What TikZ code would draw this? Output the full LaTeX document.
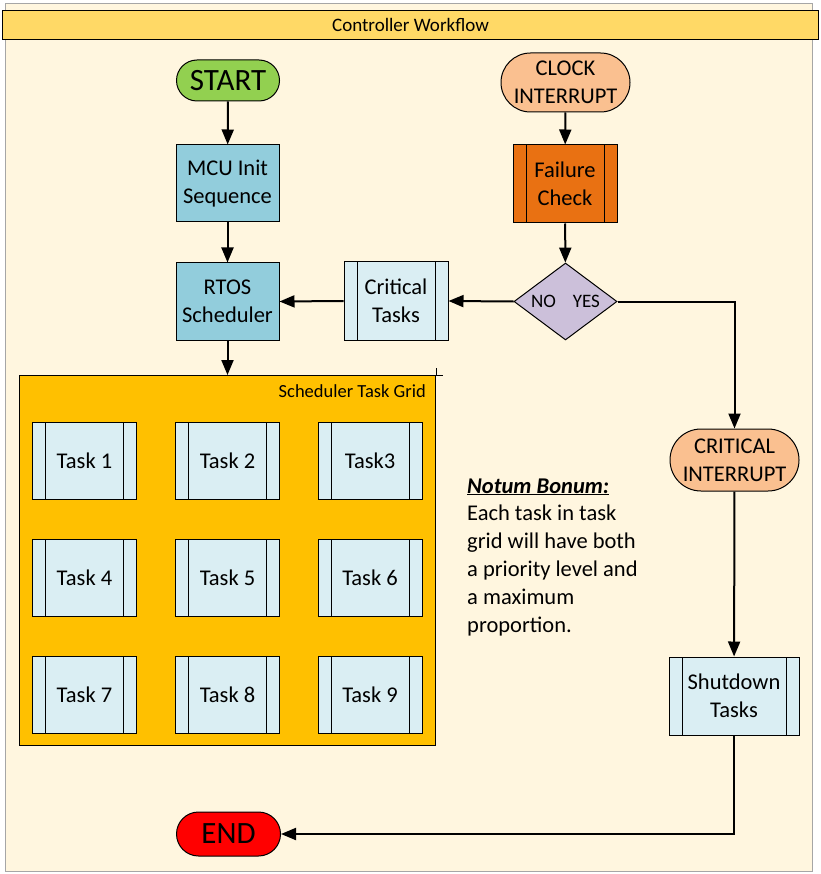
\documentclass[tikz,border=0pt]{standalone}
\usepackage{fontspec}
\setmainfont{Carlito}
\usetikzlibrary{shapes.geometric,shapes.misc,arrows.meta}
\definecolor{bgc}{HTML}{FFF6DF}
\definecolor{titlec}{HTML}{FFD966}
\definecolor{greenc}{HTML}{92D050}
\definecolor{bluec}{HTML}{92CDDC}
\definecolor{peachc}{HTML}{FAC090}
\definecolor{orangec}{HTML}{E97112}
\definecolor{lilacc}{HTML}{CCC0DA}
\definecolor{lightbc}{HTML}{DAEEF3}
\definecolor{gridc}{HTML}{FFC000}
\definecolor{framec}{HTML}{A6A6A6}
\begin{document}
\begin{tikzpicture}[x=1pt,y=-1pt,
  boxfont/.style={font=\fontsize{22.5}{28}\selectfont},
  terminal/.style={rounded rectangle, draw, line width=1pt, align=center, inner sep=0pt, boxfont},
  procbox/.style={rectangle, draw, line width=1pt, align=center, minimum width=103pt, minimum height=77pt, inner sep=0pt, boxfont},
  predef/.style={procbox, fill=lightbc, path picture={
      \draw[line width=1pt] ([xshift=13pt]path picture bounding box.north west) -- ([xshift=13pt]path picture bounding box.south west);
      \draw[line width=1pt] ([xshift=-13pt]path picture bounding box.north east) -- ([xshift=-13pt]path picture bounding box.south east);}},
  conn/.style={line width=2pt, -{Triangle[length=15pt,width=12pt]}}
]
\useasboundingbox (0,0) rectangle (820,874);
% background frame
\draw[framec, fill=bgc, line width=1pt] (5,4) rectangle (812,871);
% title
\node[draw, fill=titlec, line width=1pt, minimum width=816pt, minimum height=29pt, inner sep=0pt, anchor=north west, font=\fontsize{19}{22}\selectfont] (title) at (2,10) {Controller Workflow};

% left column
\node[terminal, fill=greenc, minimum width=103pt, minimum height=41pt, font=\fontsize{31}{36}\selectfont] (start) at (228,80.5) {START};
\node[procbox, fill=bluec] (mcu) at (227.5,183.5) {MCU Init\\Sequence};
\node[procbox, fill=bluec] (rtos) at (227.5,301.5) {RTOS\\Scheduler};

% right column
\node[terminal, fill=peachc, minimum width=129pt, minimum height=59pt] (clock) at (565.5,82.5) {CLOCK\\INTERRUPT};
\node[predef, fill=orangec, minimum width=104pt, minimum height=78pt] (fail) at (565,184) {Failure\\Check};
\node[diamond, draw, line width=1pt, fill=lilacc, minimum width=103pt, minimum height=77pt, aspect=1.34, inner sep=0pt, font=\fontsize{19}{22}\selectfont] (dec) at (565.5,301.5) {NO\hspace{17pt}YES};
\node[predef, minimum width=104pt, minimum height=78pt] (crit) at (396,301) {Critical\\Tasks};
\node[terminal, fill=peachc, minimum width=129pt, minimum height=62pt] (cint) at (734.5,460) {CRITICAL\\INTERRUPT};
\node[predef, minimum width=130pt, minimum height=78pt] (shut) at (734,696) {Shutdown\\Tasks};
\node[terminal, fill=red, minimum width=104pt, minimum height=44pt, font=\fontsize{31}{36}\selectfont] (end) at (228.5,834) {END};

% task grid
\node[draw, fill=gridc, line width=1pt, minimum width=416pt, minimum height=370pt, inner sep=0pt, anchor=north west] (grid) at (19,375) {};
\draw[line width=1pt] (grid.north east) -- ++(7,0);
\draw[line width=1pt] (grid.north east) -- ++(0,-7);
\node[anchor=base east, inner sep=0pt, font=\fontsize{18.5}{22}\selectfont] (gridlabel) at (426,397) {Scheduler Task Grid};

\node[predef, minimum width=104pt] (t1) at (84.5,460.5) {Task 1};
\node[predef, minimum width=104pt] (t2) at (227.5,460.5) {Task 2};
\node[predef, minimum width=104pt] (t3) at (370,460.5) {Task3};
\node[predef, minimum width=104pt] (t4) at (84.5,577.5) {Task 4};
\node[predef, minimum width=104pt] (t5) at (227.5,577.5) {Task 5};
\node[predef, minimum width=104pt] (t6) at (370,577.5) {Task 6};
\node[predef, minimum width=104pt] (t7) at (84.5,694.5) {Task 7};
\node[predef, minimum width=104pt] (t8) at (227.5,694.5) {Task 8};
\node[predef, minimum width=104pt] (t9) at (370,694.5) {Task 9};

% note (base anchor = baseline of the last line)
\node[anchor=base west, inner sep=0pt, align=left, font=\fontsize{22.5}{27.8}\selectfont] (note) at (467,632)
  {\underline{\textbf{\textit{Notum Bonum:}}}\\Each task in task\\grid will have both\\a priority level and\\a maximum\\proportion.};

% connectors
\draw[conn] (start) -- (mcu);
\draw[conn] (mcu) -- (rtos);
\draw[conn] (rtos.south) -- (rtos.south |- grid.north);
\draw[conn] (clock) -- (fail);
\draw[conn] (fail) -- (dec);
\draw[conn] (dec.west) -- (crit.east);
\draw[conn] (crit.west) -- (rtos.east);
\draw[conn] (dec.east) -| (cint.north);
\draw[conn] (cint) -- (shut);
\draw[conn] (shut.south) |- (end.east);
\end{tikzpicture}
\end{document}
